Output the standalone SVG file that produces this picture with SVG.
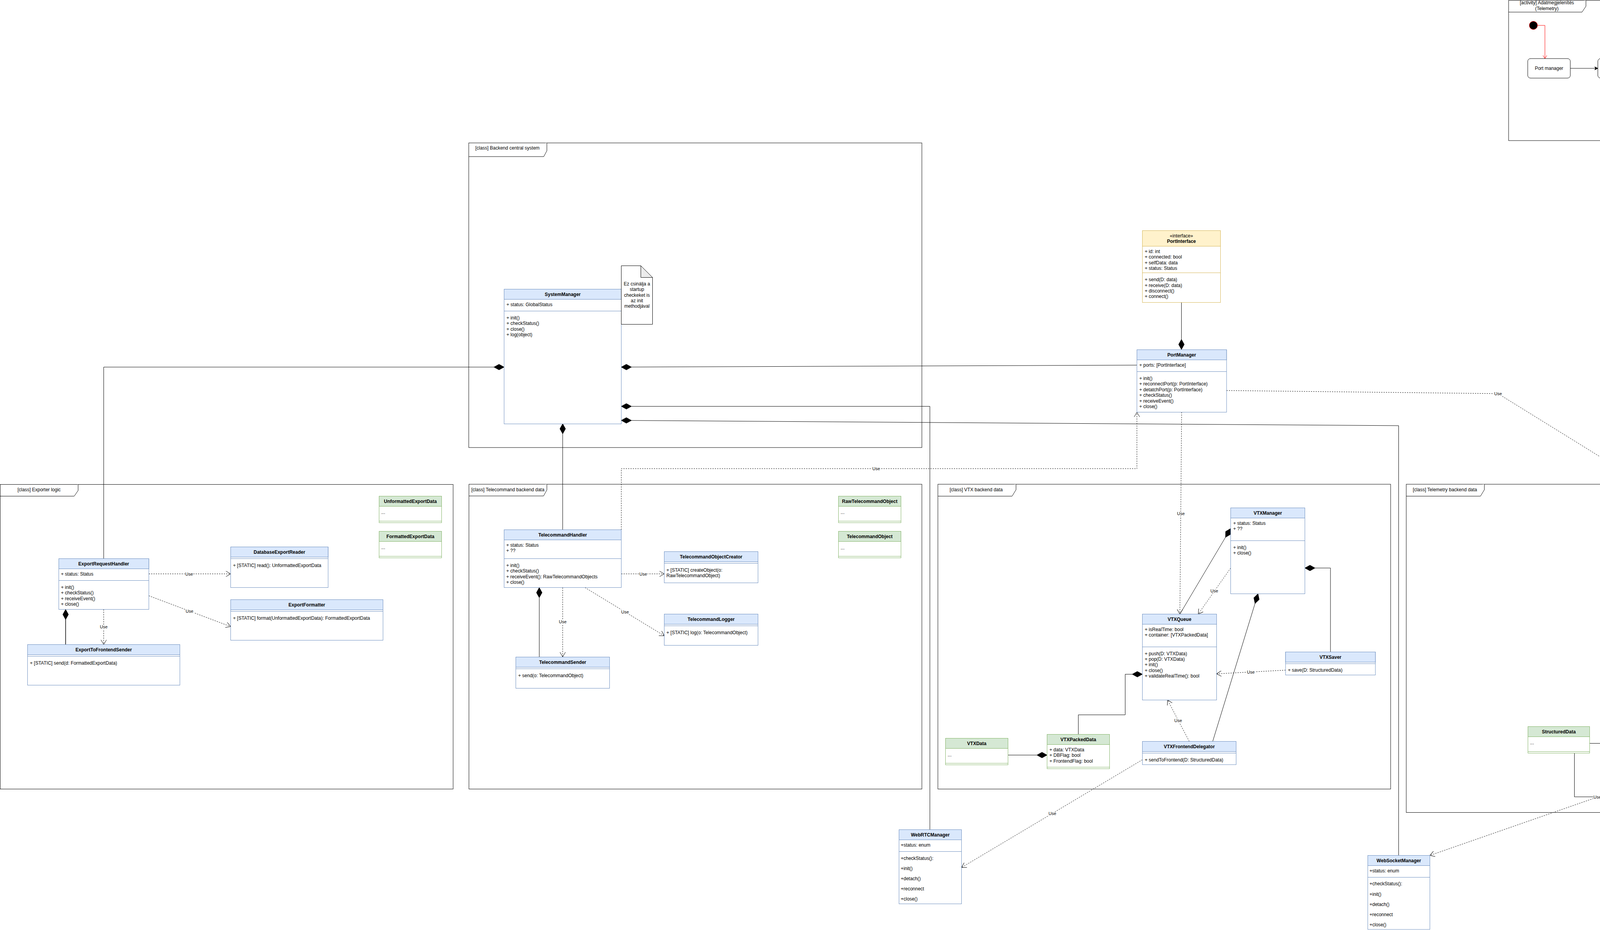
<svg xmlns="http://www.w3.org/2000/svg" width="5421" height="2384" viewBox="0 0 5421 2384">
<style>
.f{font-family:"Liberation Sans",Arial,Helvetica,sans-serif;font-size:12px;fill:#000}
.b{font-weight:bold}
.m{text-anchor:middle}
.u{font-family:"Liberation Sans",Arial,sans-serif;font-size:11px;text-anchor:middle;fill:#000;paint-order:stroke;stroke:#fff;stroke-width:4px;stroke-linejoin:round}
.hb{fill:#dae8fc;stroke:#6c8ebf}
.bb{fill:#fff;stroke:#6c8ebf}
.lb{stroke:#6c8ebf}
.hg{fill:#d5e8d4;stroke:#82b366}
.bg{fill:#fff;stroke:#82b366}
.lg{stroke:#82b366}
.hy{fill:#fff2cc;stroke:#d6b656}
.by{fill:#fff;stroke:#d6b656}
.ly{stroke:#d6b656}
.fr{fill:#fff;stroke:#000}
.tab{fill:#fff;stroke:#000}
.ln{fill:none;stroke:#000}
.gl{fill:none;stroke:#808080;stroke-width:1.5}
.da{fill:none;stroke:#000;stroke-dasharray:3 3}
.act{fill:#fff;stroke:#000}
.note{fill:#fff;stroke:#000}
.fold{fill:#ebebeb;stroke:#000}
</style>
<defs>
<marker id="dia" markerUnits="userSpaceOnUse" markerWidth="28" markerHeight="16" viewBox="0 0 28 16" refX="27" refY="8" orient="auto"><path d="M1,8 L14,0.8 L27,8 L14,15.2 Z" fill="#000" stroke="#000"/></marker>
<marker id="open" markerUnits="userSpaceOnUse" markerWidth="14" markerHeight="16" viewBox="0 0 14 16" refX="13" refY="8" orient="auto"><path d="M1,1 L13,8 L1,15" fill="none" stroke="#000"/></marker>
<marker id="openr" markerUnits="userSpaceOnUse" markerWidth="10" markerHeight="14" viewBox="0 0 10 14" refX="9" refY="7" orient="auto"><path d="M1,2 L9,7 L1,12" fill="none" stroke="#ff0000"/></marker>
<marker id="arr" markerUnits="userSpaceOnUse" markerWidth="10" markerHeight="10" viewBox="0 0 10 10" refX="9" refY="5" orient="auto"><path d="M1,1 L9,5 L1,9 L3,5 Z" fill="#000" stroke="#000"/></marker>
</defs>

<g id="frames">
<g id="frame-activity">
<rect class="fr" x="3862" y="1" width="1118" height="359"/>
<path class="tab" d="M3862,31 L4050,31 L4060,16 L4060,1"/>
<text class="f m" x="3960" y="11">[activity] Adatmegjelenítés</text>
<text class="f m" x="3960" y="26">(Telemetry)</text>
</g>
<g id="frame-backend">
<rect class="fr" x="1200" y="366" width="1160" height="780"/>
<path class="tab" d="M1200,401 L1392,401 L1400,386 L1400,366"/>
<text class="f m" x="1299" y="383">[class] Backend central system</text>
</g>
<g id="frame-exporter">
<rect class="fr" x="0.5" y="1240.5" width="1159.5" height="780"/>
<path class="tab" d="M0.5,1270.5 L190,1270.5 L200,1256 L200,1240.5"/>
<text class="f m" x="100" y="1258">[class] Exporter logic</text>
</g>
<g id="frame-telecommand">
<rect class="fr" x="1200.5" y="1240" width="1159.5" height="780.5"/>
<path class="tab" d="M1200.5,1270 L1391.5,1270 L1400,1254.5 L1400,1240"/>
<text class="f m" x="1300" y="1257.5">[class] Telecommand backend data</text>
</g>
<g id="frame-vtx">
<rect class="fr" x="2401" y="1240" width="1159" height="780.5"/>
<path class="tab" d="M2401,1270.5 L2591,1270.5 L2601,1254 L2601,1240"/>
<text class="f m" x="2499" y="1258">[class] VTX backend data</text>
</g>
<g id="frame-telemetry">
<rect class="fr" x="3600" y="1240" width="1815" height="840.5"/>
<path class="tab" d="M3600,1270.5 L3790,1270.5 L3800,1254 L3800,1240"/>
<text class="f m" x="3699" y="1258">[class] Telemetry backend data</text>
</g>
</g>

<g id="connectors">
<!-- activity flow -->
<path d="M3936,65 L3955,65 L3955,150" fill="none" stroke="#ff0000" marker-end="url(#openr)"/>
<path class="ln" d="M4020,175 L4090.5,175" marker-end="url(#arr)"/>
<path class="ln" d="M4200.5,175 L4250.5,175" marker-end="url(#arr)"/>
<path class="ln" d="M4360.5,175 L4421,175" marker-end="url(#arr)"/>
<path class="ln" d="M4531,175 L4590.5,175" marker-end="url(#arr)"/>
<path class="ln" d="M4700.5,175 L4730,175" marker-end="url(#arr)"/>
<path class="gl" d="M4741,163 L4767,163 L4767,131" marker-end="url(#arr)"/>
<path class="gl" d="M4741,188 L4767,188 L4767,230" marker-end="url(#arr)"/>
<path class="ln" d="M4851,105 L4871,105 L4871,168 L4890,168" marker-end="url(#arr)"/>
<path class="ln" d="M4851,255 L4871,255 L4871,193 L4890,193" marker-end="url(#arr)"/>
<path class="ln" d="M4901,180 L4921,180" marker-end="url(#arr)"/>

<!-- backend central -->
<path class="ln" d="M3024.5,774.5 L3024.5,895" marker-end="url(#dia)"/>
<path class="ln" d="M2910.5,935 L1590.5,940" marker-end="url(#dia)"/>
<path class="ln" d="M2380.5,2124.5 L2380.5,1040.5 L1590.5,1040.5" marker-end="url(#dia)"/>
<path class="ln" d="M3580.5,2190.5 L3580.5,1090 L1590.5,1076.5" marker-end="url(#dia)"/>
<path class="ln" d="M265.5,1430.5 L265.5,940 L1290.5,940" marker-end="url(#dia)"/>
<path class="ln" d="M1440.5,1356.5 L1440.5,1085" marker-end="url(#dia)"/>
<path class="da" d="M1590.5,1356.5 L1590.5,1200 L2910.5,1200 L2910.5,1055.5" marker-end="url(#open)"/>
<text class="u" x="2243" y="1204">Use</text>
<path class="da" d="M3025,1055.5 L3020.5,1572.5" marker-end="url(#open)"/>
<text class="u" x="3023" y="1319">Use</text>
<path class="da" d="M3140,1000 L3835,1008 L4430.5,1376.5" marker-end="url(#open)"/>
<text class="u" x="3835" y="1012">Use</text>

<!-- exporter -->
<path class="da" d="M381,1469.5 L590.5,1469.5" marker-end="url(#open)"/>
<text class="u" x="484" y="1473.5">Use</text>
<path class="da" d="M381,1525.5 L590.5,1604.5" marker-end="url(#open)"/>
<text class="u" x="485" y="1568.5">Use</text>
<path class="ln" d="M168,1650.5 L168,1560.5" stroke-width="1.5" marker-end="url(#dia)"/>
<path class="da" d="M265.5,1560.5 L265.5,1650.5" marker-end="url(#open)"/>
<text class="u" x="265.5" y="1608.5">Use</text>

<!-- telecommand -->
<path class="da" d="M1590.5,1469.5 L1700.5,1469.5" marker-end="url(#open)"/>
<text class="u" x="1646.5" y="1473.5">Use</text>
<path class="da" d="M1497.5,1504.5 L1700.5,1628" marker-end="url(#open)"/>
<text class="u" x="1600" y="1570.5">Use</text>
<path class="ln" d="M1380.5,1682 L1380.5,1504.5" marker-end="url(#dia)"/>
<path class="da" d="M1440.5,1504.5 L1440.5,1682" marker-end="url(#open)"/>
<text class="u" x="1440.5" y="1596">Use</text>

<!-- vtx -->
<path class="ln" d="M3020.5,1572.5 L3150.5,1353.5" marker-end="url(#dia)"/>
<path class="da" d="M3150.5,1454.5 L3067.5,1572.5" marker-end="url(#open)"/>
<text class="u" x="3108.5" y="1517">Use</text>
<path class="ln" d="M3104.5,1898.5 L3220.5,1520.5" marker-end="url(#dia)"/>
<path class="ln" d="M3406,1669.5 L3406,1454.5 L3340.5,1454.5" marker-end="url(#dia)"/>
<path class="ln" d="M2760.5,1880.5 L2760.5,1830.5 L2880.5,1830.5 L2880.5,1726.5 L2924.5,1726.5" marker-end="url(#dia)"/>
<path class="da" d="M3291,1716 L3114.5,1725.5" marker-end="url(#open)"/>
<text class="u" x="3202" y="1725">Use</text>
<path class="da" d="M3044.5,1898.5 L2989,1792.5" marker-end="url(#open)"/>
<text class="u" x="3016" y="1849">Use</text>
<path class="ln" d="M2580.5,1933.5 L2680.5,1933.5" marker-end="url(#dia)"/>
<path class="da" d="M2924.5,1945.5 L2461.5,2221.5" marker-end="url(#open)"/>
<text class="u" x="2694" y="2087">Use</text>

<!-- telemetry -->
<path class="da" d="M4590.5,1376.5 L4670.5,1330" marker-end="url(#open)"/>
<text class="u" x="4631" y="1357">Use</text>
<path class="da" d="M4590.5,1410 L4670.5,1446.5" marker-end="url(#open)"/>
<text class="u" x="4630" y="1432">Use</text>
<path class="da" d="M4510.5,1420.5 L4510.5,1542.5" marker-end="url(#open)"/>
<text class="u" x="4510.5" y="1484">Use</text>
<path class="da" d="M4605,1696.5 L4750.5,1651.5" marker-end="url(#open)"/>
<text class="u" x="4678" y="1679">Use</text>
<path class="da" d="M4546,1830 L4497,1762.5" marker-end="url(#open)"/>
<text class="u" x="4522" y="1801.5">Use</text>
<path class="ln" d="M4251,1850.5 L4251,1800.5 L4370,1800.5 L4370,1696.5 L4415.5,1696.5" marker-end="url(#dia)"/>
<path class="ln" d="M4069.5,1903.5 L4170.5,1903.5" marker-end="url(#dia)"/>
<path class="ln" d="M4030.5,1928.5 L4030.5,2040.5 L4880.5,2040.5 L4880.5,1812.5" marker-end="url(#dia)"/>
<path class="da" d="M4521.5,1890.5 L3660.5,2190.5" marker-end="url(#open)"/>
<text class="u" x="4089" y="2044.5">Use</text>
</g>

<!-- activity nodes -->
<g id="act-start"><circle cx="3925.5" cy="65" r="10.5" fill="#000" stroke="#ff0000"/></g>
<g id="act-portmanager"><rect class="act" x="3911" y="150" width="109" height="50" rx="7"/><text class="f m" x="3965.5" y="179">Port manager</text></g>
<g id="act-dekodolo"><rect class="act" x="4090.5" y="150" width="110" height="50" rx="7"/><text class="f m" x="4145.5" y="179">Adat dekódoló</text></g>
<g id="act-szuro"><rect class="act" x="4250.5" y="150" width="110" height="50" rx="7"/><text class="f m" x="4305.5" y="179">Adatszűrő</text></g>
<g id="act-json"><rect class="act" x="4421" y="150" width="110" height="50" rx="7"/><text class="f m" x="4476" y="172">JSON structure</text><text class="f m" x="4476" y="186.5">konvertáló</text></g>
<g id="act-queue"><rect class="act" x="4590.5" y="150" width="110" height="50" rx="7"/><text class="f m" x="4645.5" y="179">Queue manager</text></g>
<g id="act-fork"><rect x="4730" y="150" width="11" height="51" fill="#000"/></g>
<g id="act-dbiro"><rect class="act" x="4741" y="80" width="110" height="51" rx="7"/><text class="f m" x="4796" y="109.5">Adatbázis író</text></g>
<g id="act-frontend"><rect class="act" x="4741" y="230" width="110" height="51" rx="7"/><text class="f m" x="4796" y="259.5">Frontend továbbító</text></g>
<g id="act-join"><rect x="4890" y="155" width="11" height="51" fill="#000"/></g>
<g id="act-end"><circle cx="4936.5" cy="180" r="14.5" fill="#fff" stroke="#ff0000"/><circle cx="4936.5" cy="180" r="11" fill="#000"/></g>

<!-- backend central -->
<g id="SystemManager">
<rect class="bb" x="1290.5" y="740.5" width="300" height="345"/>
<rect class="hb" x="1290.5" y="740.5" width="300" height="26"/>
<line class="lb" x1="1290.5" y1="796.5" x2="1590.5" y2="796.5"/>
<text class="f b m" x="1440.5" y="758">SystemManager</text>
<text class="f" x="1296.5" y="784">+ status: GlobalStatus</text>
<text class="f" x="1296.5" y="817.5">+ init()</text>
<text class="f" x="1296.5" y="832">+ checkStatus()</text>
<text class="f" x="1296.5" y="846.5">+ close()</text>
<text class="f" x="1296.5" y="861">+ log(object)</text>
</g>
<g id="note-startup">
<path class="note" d="M1590.5,680.5 L1640.5,680.5 L1670.5,710.5 L1670.5,830.5 L1590.5,830.5 Z"/>
<path class="fold" d="M1640.5,680.5 L1640.5,710.5 L1670.5,710.5 Z"/>
<text class="f m" x="1630.5" y="731">Ez csinálja a</text>
<text class="f m" x="1630.5" y="745">startup</text>
<text class="f m" x="1630.5" y="759.5">checkeket is</text>
<text class="f m" x="1630.5" y="773.5">az init</text>
<text class="f m" x="1630.5" y="787.5">methodjával</text>
</g>
<g id="PortInterface">
<rect class="by" x="2924.5" y="590.5" width="200" height="184"/>
<rect class="hy" x="2924.5" y="590.5" width="200" height="40"/>
<line class="ly" x1="2924.5" y1="698.5" x2="3124.5" y2="698.5"/>
<text class="f m" x="3024.5" y="608">«interface»</text>
<text class="f b m" x="3024.5" y="621.5">PortInterface</text>
<text class="f" x="2930.5" y="647.5">+ id: int</text>
<text class="f" x="2930.5" y="662">+ connected: bool</text>
<text class="f" x="2930.5" y="676.5">+ selfData: data</text>
<text class="f" x="2930.5" y="691">+ status: Status</text>
<text class="f" x="2930.5" y="720">+ send(D: data)</text>
<text class="f" x="2930.5" y="734.5">+ receive(D: data)</text>
<text class="f" x="2930.5" y="749">+ disconnect()</text>
<text class="f" x="2930.5" y="763">+ connect()</text>
</g>
<g id="PortManager">
<rect class="bb" x="2910.5" y="895.5" width="229.5" height="160"/>
<rect class="hb" x="2910.5" y="895.5" width="229.5" height="26"/>
<line class="lb" x1="2910.5" y1="951.5" x2="3140" y2="951.5"/>
<text class="f b m" x="3025.3" y="913">PortManager</text>
<text class="f" x="2916.5" y="939">+ ports: [PortInterface]</text>
<text class="f" x="2916.5" y="972.5">+ init()</text>
<text class="f" x="2916.5" y="987">+ reconnectPort(p: PortInterface)</text>
<text class="f" x="2916.5" y="1001.5">+ detatchPort(p: PortInterface)</text>
<text class="f" x="2916.5" y="1016">+ checkStatus()</text>
<text class="f" x="2916.5" y="1030.5">+ receiveEvent()</text>
<text class="f" x="2916.5" y="1045">+ close()</text>
</g>

<!-- exporter -->
<g id="ExportRequestHandler">
<rect class="bb" x="150.5" y="1430.5" width="230.5" height="130"/>
<rect class="hb" x="150.5" y="1430.5" width="230.5" height="26"/>
<line class="lb" x1="150.5" y1="1486.5" x2="381" y2="1486.5"/>
<text class="f b m" x="265.5" y="1447.5">ExportRequestHandler</text>
<text class="f" x="156" y="1473.5">+ status: Status</text>
<text class="f" x="156" y="1508">+ init()</text>
<text class="f" x="156" y="1522">+ checkStatus()</text>
<text class="f" x="156" y="1536.5">+ receiveEvent()</text>
<text class="f" x="156" y="1550.5">+ close()</text>
</g>
<g id="DatabaseExportReader">
<rect class="bb" x="590.5" y="1400.5" width="249.5" height="104"/>
<rect class="hb" x="590.5" y="1400.5" width="249.5" height="26"/>
<line class="lb" x1="590.5" y1="1430.5" x2="840" y2="1430.5"/>
<text class="f b m" x="715.3" y="1417.5">DatabaseExportReader</text>
<text class="f" x="596.5" y="1452">+ [STATIC] read(): UnformattedExportData</text>
</g>
<g id="ExportFormatter">
<rect class="bb" x="590.5" y="1535.5" width="390" height="104"/>
<rect class="hb" x="590.5" y="1535.5" width="390" height="26"/>
<line class="lb" x1="590.5" y1="1565.5" x2="980.5" y2="1565.5"/>
<text class="f b m" x="785.5" y="1552.5">ExportFormatter</text>
<text class="f" x="596.5" y="1587">+ [STATIC] format(UnformattedExportData): FormattedExportData</text>
</g>
<g id="ExportToFrontendSender">
<rect class="bb" x="70.5" y="1650.5" width="390" height="104"/>
<rect class="hb" x="70.5" y="1650.5" width="390" height="26"/>
<line class="lb" x1="70.5" y1="1680.5" x2="460.5" y2="1680.5"/>
<text class="f b m" x="265.5" y="1667.5">ExportToFrontendSender</text>
<text class="f" x="76.5" y="1702">+ [STATIC] send(d: FormattedExportData)</text>
</g>
<g id="UnformattedExportData">
<rect class="bg" x="970.5" y="1270.5" width="160" height="68"/>
<rect class="hg" x="970.5" y="1270.5" width="160" height="26"/>
<line class="lg" x1="970.5" y1="1334.5" x2="1130.5" y2="1334.5"/>
<text class="f b m" x="1050.5" y="1287.5">UnformattedExportData</text>
<text class="f" x="976" y="1315.5">...</text>
</g>
<g id="FormattedExportData">
<rect class="bg" x="970.5" y="1360.5" width="160" height="68"/>
<rect class="hg" x="970.5" y="1360.5" width="160" height="26"/>
<line class="lg" x1="970.5" y1="1424.5" x2="1130.5" y2="1424.5"/>
<text class="f b m" x="1050.5" y="1377.5">FormattedExportData</text>
<text class="f" x="976" y="1406">...</text>
</g>

<!-- telecommand -->
<g id="TelecommandHandler">
<rect class="bb" x="1290.5" y="1356.5" width="300" height="148"/>
<rect class="hb" x="1290.5" y="1356.5" width="300" height="26"/>
<line class="lb" x1="1290.5" y1="1430.5" x2="1590.5" y2="1430.5"/>
<text class="f b m" x="1440.5" y="1373.5">TelecommandHandler</text>
<text class="f" x="1296" y="1399.5">+ status: Status</text>
<text class="f" x="1296" y="1413.5">+ ??</text>
<text class="f" x="1296" y="1451.5">+ init()</text>
<text class="f" x="1296" y="1465.5">+ checkStatus()</text>
<text class="f" x="1296" y="1480.5">+ receiveEvent(): RawTelecommandObjects</text>
<text class="f" x="1296" y="1494.5">+ close()</text>
</g>
<g id="TelecommandObjectCreator">
<rect class="bb" x="1700.5" y="1412.5" width="240" height="80"/>
<rect class="hb" x="1700.5" y="1412.5" width="240" height="26"/>
<line class="lb" x1="1700.5" y1="1442.5" x2="1940.5" y2="1442.5"/>
<text class="f b m" x="1820.5" y="1429.5">TelecommandObjectCreator</text>
<text class="f" x="1706" y="1463.5">+ [STATIC] createObject(o:</text>
<text class="f" x="1706" y="1477.5">RawTelecommandObject)</text>
</g>
<g id="TelecommandLogger">
<rect class="bb" x="1700.5" y="1572.5" width="240" height="80"/>
<rect class="hb" x="1700.5" y="1572.5" width="240" height="26"/>
<line class="lb" x1="1700.5" y1="1602.5" x2="1940.5" y2="1602.5"/>
<text class="f b m" x="1820.5" y="1589.5">TelecommandLogger</text>
<text class="f" x="1706" y="1623.5">+ [STATIC] log(o: TelecommandObject)</text>
</g>
<g id="TelecommandSender">
<rect class="bb" x="1320.5" y="1682.5" width="240" height="80"/>
<rect class="hb" x="1320.5" y="1682.5" width="240" height="26"/>
<line class="lb" x1="1320.5" y1="1712.5" x2="1560.5" y2="1712.5"/>
<text class="f b m" x="1440.5" y="1699.5">TelecommandSender</text>
<text class="f" x="1326.5" y="1733.5">+ send(o: TelecommandObject)</text>
</g>
<g id="RawTelecommandObject">
<rect class="bg" x="2146.5" y="1270.5" width="160" height="68"/>
<rect class="hg" x="2146.5" y="1270.5" width="160" height="26"/>
<line class="lg" x1="2146.5" y1="1334.5" x2="2306.5" y2="1334.5"/>
<text class="f b m" x="2226.5" y="1287.5">RawTelecommandObject</text>
<text class="f" x="2152" y="1315.5">...</text>
</g>
<g id="TelecommandObject">
<rect class="bg" x="2146.5" y="1360.5" width="160" height="68"/>
<rect class="hg" x="2146.5" y="1360.5" width="160" height="26"/>
<line class="lg" x1="2146.5" y1="1424.5" x2="2306.5" y2="1424.5"/>
<text class="f b m" x="2226.5" y="1377.5">TelecommandObject</text>
<text class="f" x="2152" y="1407">...</text>
</g>

<!-- vtx -->
<g id="VTXManager">
<rect class="bb" x="3150.5" y="1300.5" width="190" height="220"/>
<rect class="hb" x="3150.5" y="1300.5" width="190" height="26"/>
<line class="lb" x1="3150.5" y1="1384.5" x2="3340.5" y2="1384.5"/>
<text class="f b m" x="3245.5" y="1317.5">VTXManager</text>
<text class="f" x="3157" y="1343.5">+ status: Status</text>
<text class="f" x="3157" y="1357.5">+ ??</text>
<text class="f" x="3157" y="1405.5">+ init()</text>
<text class="f" x="3157" y="1419.5">+ close()</text>
</g>
<g id="VTXQueue">
<rect class="bb" x="2924.5" y="1572.5" width="190" height="220"/>
<rect class="hb" x="2924.5" y="1572.5" width="190" height="26"/>
<line class="lb" x1="2924.5" y1="1656.5" x2="3114.5" y2="1656.5"/>
<text class="f b m" x="3019.5" y="1589.5">VTXQueue</text>
<text class="f" x="2930.5" y="1615.5">+ isRealTime: bool</text>
<text class="f" x="2930.5" y="1629.5">+ container: [VTXPackedData]</text>
<text class="f" x="2930.5" y="1677.5">+ push(D: VTXData)</text>
<text class="f" x="2930.5" y="1691.5">+ pop(D: VTXData)</text>
<text class="f" x="2930.5" y="1706">+ init()</text>
<text class="f" x="2930.5" y="1720.5">+ close()</text>
<text class="f" x="2930.5" y="1735">+ validateRealTime(): bool</text>
</g>
<g id="VTXSaver">
<rect class="bb" x="3291" y="1669.5" width="230" height="59"/>
<rect class="hb" x="3291" y="1669.5" width="230" height="26"/>
<line class="lb" x1="3291" y1="1699.5" x2="3521" y2="1699.5"/>
<text class="f b m" x="3406" y="1686.5">VTXSaver</text>
<text class="f" x="3297" y="1720">+ save(D: StructuredData)</text>
</g>
<g id="VTXFrontendDelegator">
<rect class="bb" x="2924.5" y="1898.5" width="240" height="59.5"/>
<rect class="hb" x="2924.5" y="1898.5" width="240" height="26"/>
<line class="lb" x1="2924.5" y1="1928.5" x2="3164.5" y2="1928.5"/>
<text class="f b m" x="3044.5" y="1915.5">VTXFrontendDelegator</text>
<text class="f" x="2930.5" y="1949.5">+ sendToFrontend(D: StructuredData)</text>
</g>
<g id="VTXPackedData">
<rect class="bg" x="2680.5" y="1880.5" width="160" height="88"/>
<rect class="hg" x="2680.5" y="1880.5" width="160" height="26"/>
<line class="lg" x1="2680.5" y1="1964.5" x2="2840.5" y2="1964.5"/>
<text class="f b m" x="2760.5" y="1897.5">VTXPackedData</text>
<text class="f" x="2686.5" y="1923.5">+ data: VTXData</text>
<text class="f" x="2686.5" y="1937.5">+ DBFlag: bool</text>
<text class="f" x="2686.5" y="1952.5">+ FrontendFlag: bool</text>
</g>
<g id="VTXData">
<rect class="bg" x="2420.5" y="1890.5" width="160" height="68"/>
<rect class="hg" x="2420.5" y="1890.5" width="160" height="26"/>
<line class="lg" x1="2420.5" y1="1954.5" x2="2580.5" y2="1954.5"/>
<text class="f b m" x="2500.5" y="1907.5">VTXData</text>
<text class="f" x="2426" y="1936.5">...</text>
</g>

<!-- telemetry -->
<g id="DataDecoder">
<rect class="bb" x="4430.5" y="1300.5" width="160" height="120"/>
<rect class="hb" x="4430.5" y="1300.5" width="160" height="26"/>
<line class="lb" x1="4430.5" y1="1330.5" x2="4590.5" y2="1330.5"/>
<text class="f b m" x="4510.5" y="1317.5">DataDecoder</text>
<text class="f" x="4436" y="1352">+ [STATIC] decode(data)</text>
</g>
<g id="DataFilterer">
<rect class="bb" x="4670.5" y="1300.5" width="210" height="60"/>
<rect class="hb" x="4670.5" y="1300.5" width="210" height="26"/>
<line class="lb" x1="4670.5" y1="1330.5" x2="4880.5" y2="1330.5"/>
<text class="f b m" x="4775.5" y="1317.5">DataFilterer</text>
<text class="f" x="4676" y="1352">+ [STATIC] filter(in: data): data</text>
</g>
<g id="JSONStructureConverter">
<rect class="bb" x="4670.5" y="1390.5" width="210" height="80"/>
<rect class="hb" x="4670.5" y="1390.5" width="210" height="26"/>
<line class="lb" x1="4670.5" y1="1420.5" x2="4880.5" y2="1420.5"/>
<text class="f b m" x="4775.5" y="1407.5">JSONStructureConverter</text>
<text class="f" x="4676" y="1442">+ [STATIC] construct(in: data):</text>
<text class="f" x="4676" y="1456">StructuredData</text>
</g>
<g id="QueueManager">
<rect class="bb" x="4415.5" y="1542.5" width="190" height="220"/>
<rect class="hb" x="4415.5" y="1542.5" width="190" height="26"/>
<line class="lb" x1="4415.5" y1="1626.5" x2="4605.5" y2="1626.5"/>
<text class="f b m" x="4510.5" y="1559.5">QueueManager</text>
<text class="f" x="4421.5" y="1585.5">+ isRealTime: bool</text>
<text class="f" x="4421.5" y="1599.5">+ container: [PackedData]</text>
<text class="f" x="4421.5" y="1648">+ push(D: StructuredData)</text>
<text class="f" x="4421.5" y="1662">+ pop(D: StructuredData)</text>
<text class="f" x="4421.5" y="1677">+ init()</text>
<text class="f" x="4421.5" y="1691">+ close()</text>
<text class="f" x="4421.5" y="1706">+ validateRealTime(): bool</text>
</g>
<g id="DatabaseQueue">
<rect class="bb" x="4750.5" y="1542.5" width="260" height="270"/>
<rect class="hb" x="4750.5" y="1542.5" width="260" height="26"/>
<line class="lb" x1="4750.5" y1="1626.5" x2="5010.5" y2="1626.5"/>
<text class="f b m" x="4880.5" y="1559.5">DatabaseQueue</text>
<text class="f" x="4756" y="1585.5">+ isRealTime: bool</text>
<text class="f" x="4756" y="1599.5">+ container: [StructuredData]</text>
<text class="f" x="4756" y="1648">+ push(D: StructuredData)</text>
<text class="f" x="4756" y="1662">+ pushCommandObject(CO: CommandObject)</text>
<text class="f" x="4756" y="1677">+ writeDB(D: StructuredData)</text>
<text class="f" x="4756" y="1691">+ init()</text>
<text class="f" x="4756" y="1706">+ close()</text>
<text class="f" x="4756" y="1720">+ validateRealTime(): bool</text>
<text class="f" x="4756" y="1734">+ sortQueue()</text>
</g>
<g id="note-writeDB">
<path class="note" d="M4750.5,1762.5 L4980.5,1762.5 L5010.5,1792.5 L5010.5,1812.5 L4750.5,1812.5 Z"/>
<path class="fold" d="M4980.5,1762.5 L4980.5,1792.5 L5010.5,1792.5 Z"/>
<text class="f" x="4751" y="1791">writeDB = írja a DB-be és POP-ol is.</text>
</g>
<g id="FrontendDelegator">
<rect class="bb" x="4380.5" y="1830.5" width="239" height="60"/>
<rect class="hb" x="4380.5" y="1830.5" width="239" height="26"/>
<line class="lb" x1="4380.5" y1="1860.5" x2="4619.5" y2="1860.5"/>
<text class="f b m" x="4500" y="1847.5">FrontendDelegator</text>
<text class="f" x="4386" y="1881.5">+ sendToFrontend(D: StructuredData)</text>
</g>
<g id="PackedData">
<rect class="bg" x="4170.5" y="1850.5" width="159.5" height="88"/>
<rect class="hg" x="4170.5" y="1850.5" width="159.5" height="26"/>
<line class="lg" x1="4170.5" y1="1934.5" x2="4330" y2="1934.5"/>
<text class="f b m" x="4250.5" y="1867.5">PackedData</text>
<text class="f" x="4176" y="1894">+ data: StructuredData</text>
<text class="f" x="4176" y="1908">+ DBFlag: bool</text>
<text class="f" x="4176" y="1923">+ FrontendFlag: bool</text>
</g>
<g id="StructuredData">
<rect class="bg" x="3911.5" y="1860.5" width="158" height="68"/>
<rect class="hg" x="3911.5" y="1860.5" width="158" height="26"/>
<line class="lg" x1="3911.5" y1="1924.5" x2="4069.5" y2="1924.5"/>
<text class="f b m" x="3990.5" y="1877.5">StructuredData</text>
<text class="f" x="3917" y="1906">...</text>
</g>
<g id="CommandObject">
<rect class="bg" x="5220.5" y="1270.5" width="160" height="68"/>
<rect class="hg" x="5220.5" y="1270.5" width="160" height="26"/>
<line class="lg" x1="5220.5" y1="1334.5" x2="5380.5" y2="1334.5"/>
<text class="f b m" x="5300.5" y="1287.5">CommandObject</text>
<text class="f" x="5226" y="1315.5">...</text>
</g>

<!-- web managers -->
<g id="WebRTCManager">
<rect class="bb" x="2301.5" y="2124.5" width="160" height="190"/>
<rect class="hb" x="2301.5" y="2124.5" width="160" height="26"/>
<line class="lb" x1="2301.5" y1="2180.5" x2="2461.5" y2="2180.5"/>
<text class="f b m" x="2381.5" y="2142">WebRTCManager</text>
<text class="f" x="2306" y="2168">+status: enum</text>
<text class="f" x="2306" y="2201.5">+checkStatus():</text>
<text class="f" x="2306" y="2227.5">+init()</text>
<text class="f" x="2306" y="2254">+detach()</text>
<text class="f" x="2306" y="2280">+reconnect</text>
<text class="f" x="2306" y="2306">+close()</text>
</g>
<g id="WebSocketManager">
<rect class="bb" x="3501.5" y="2190.5" width="159" height="189.5"/>
<rect class="hb" x="3501.5" y="2190.5" width="159" height="26"/>
<line class="lb" x1="3501.5" y1="2246.5" x2="3660.5" y2="2246.5"/>
<text class="f b m" x="3581" y="2208">WebSocketManager</text>
<text class="f" x="3506" y="2234">+status: enum</text>
<text class="f" x="3506" y="2267">+checkStatus():</text>
<text class="f" x="3506" y="2293.5">+init()</text>
<text class="f" x="3506" y="2319.5">+detach()</text>
<text class="f" x="3506" y="2345.5">+reconnect</text>
<text class="f" x="3506" y="2371.5">+close()</text>
</g>
</svg>
